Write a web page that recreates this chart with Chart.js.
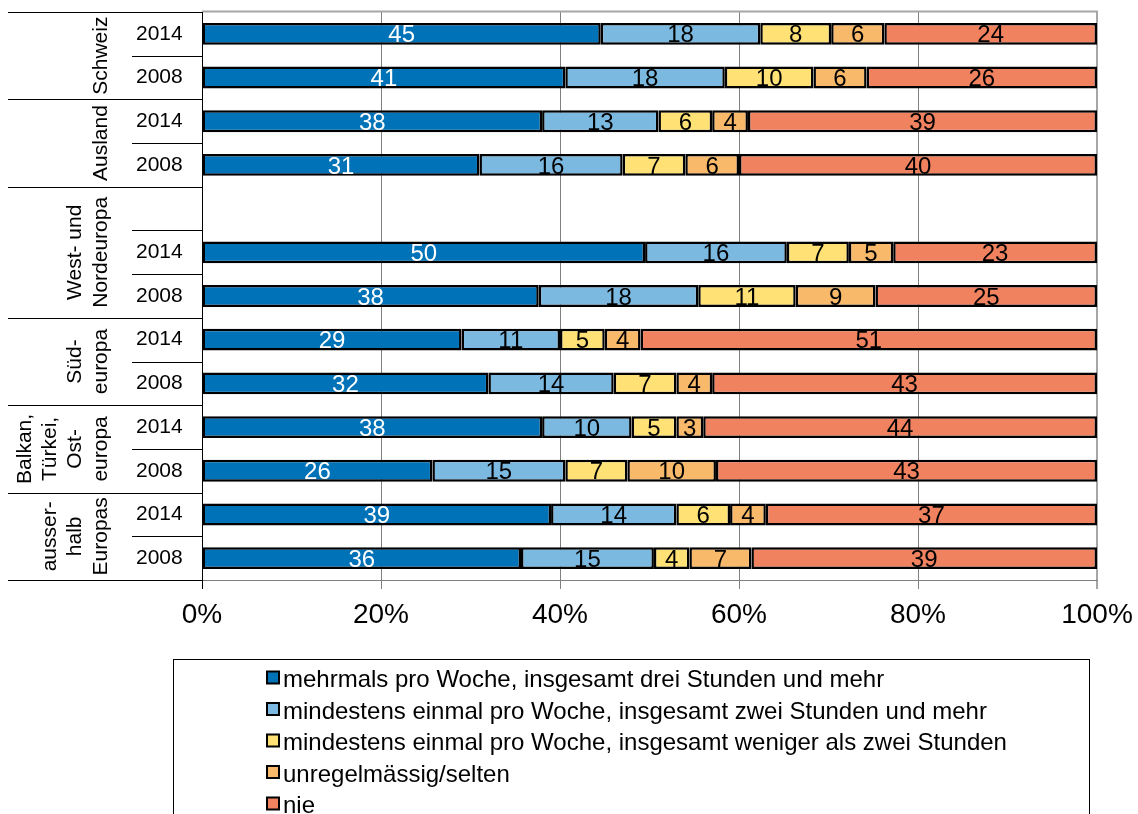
<!DOCTYPE html>
<html>
<head>
<meta charset="utf-8">
<script src="https://cdn.jsdelivr.net/npm/chart.js@4.4.1/dist/chart.umd.min.js"></script>
<style>
html,body{margin:0;padding:0;background:#fff;}
#wrap{width:1138px;height:814px;position:relative;}
</style>
</head>
<body>
<div id="wrap"><canvas id="c" width="1138" height="814"></canvas></div>
<script>
// ---- data ----
const rowLabels = ["2014","2008","2014","2008","","2014","2008","2014","2008","2014","2008","2014","2008"];
const groupLabels = [["Schweiz"],["Ausland"],["West- und","Nordeuropa"],["Süd-","europa"],["Balkan,","Türkei,","Ost-","europa"],["ausser-","halb","Europas"]];
const groupSizes = [2,2,3,2,2,2];
const seriesNames = [
  "mehrmals pro Woche, insgesamt drei Stunden und mehr",
  "mindestens einmal pro Woche, insgesamt zwei Stunden und mehr",
  "mindestens einmal pro Woche, insgesamt weniger als zwei Stunden",
  "unregelmässig/selten",
  "nie"
];
const mehrmals     = [45,41,38,31,null,50,38,29,32,38,26,39,36];
const mindZwei     = [18,18,13,16,null,16,18,11,14,10,15,14,15];
const mindWeniger  = [ 8,10, 6, 7,null, 7,11, 5, 7, 5, 7, 6, 4];
const unregelmaessig=[ 6, 6, 4, 6,null, 5, 9, 4, 4, 3,10, 4, 7];
const nie          = [24,26,39,40,null,23,25,51,43,44,43,37,39];
const xTicks = [0,20,40,60,80,100];

const seriesColors = ["#0072b7","#7bb9e1","#ffe176","#f9b96b","#f0825f"];
const labelColors = ["#ffffff","#000000","#000000","#000000","#000000"];
const rawSeries = [mehrmals,mindZwei,mindWeniger,unregelmaessig,nie];

// 100% stacked: share of each row total
const totals = rowLabels.map((_,i)=>rawSeries.reduce((s,a)=>s+(a[i]||0),0));
const datasets = rawSeries.map((arr,k)=>({
  label: seriesNames[k],
  data: arr.map((v,i)=> v==null ? null : v/totals[i]*100),
  raw: arr,
  backgroundColor: seriesColors[k],
  borderColor: "#000",
  borderWidth: 2.5,
  borderSkipped: false,
  barPercentage: 0.5,
  categoryPercentage: 1.0
}));

const FONT = "'Liberation Sans', Arial, sans-serif";

const valueLabels = {
  id:'valueLabels',
  afterDatasetsDraw(chart){
    const ctx = chart.ctx;
    ctx.save();
    ctx.font = "24px " + FONT;
    ctx.textAlign = "center";
    ctx.textBaseline = "middle";
    chart.data.datasets.forEach((ds,k)=>{
      const meta = chart.getDatasetMeta(k);
      meta.data.forEach((el,i)=>{
        const v = ds.raw[i];
        if (v==null) return;
        const p = el.getCenterPoint();
        ctx.fillStyle = labelColors[k];
        ctx.fillText(String(v), p.x, p.y + 2);
      });
    });
    ctx.restore();
  }
};

const frame = {
  id:'frame',
  afterDraw(chart){
    const ctx = chart.ctx, a = chart.chartArea, y = chart.scales.y;
    ctx.save();
    // top border of plot
    ctx.strokeStyle = "#a6a6a6"; ctx.lineWidth = 2;
    ctx.beginPath(); ctx.moveTo(a.left, a.top-0.5); ctx.lineTo(a.right+1, a.top-0.5); ctx.stroke();
    // left panel separators
    ctx.strokeStyle = "#000"; ctx.lineWidth = 1;
    const bound = i => i<=0 ? a.top : (i>=rowLabels.length ? a.bottom : (y.getPixelForValue(i-1)+y.getPixelForValue(i))/2);
    let start = 0;
    const hl = (x0, yy)=>{ ctx.beginPath(); ctx.moveTo(x0, Math.round(yy)+0.5); ctx.lineTo(a.left, Math.round(yy)+0.5); ctx.stroke(); };
    hl(8, a.top);
    ctx.font = "21px " + FONT;
    ctx.fillStyle = "#000";
    ctx.textAlign = "center";
    ctx.textBaseline = "middle";
    groupSizes.forEach((n,g)=>{
      for (let r=start+1; r<start+n; r++) hl(132, bound(r));
      hl(8, bound(start+n));
      const yc = (bound(start)+bound(start+n))/2;
      const lines = groupLabels[g];
      lines.forEach((t,j)=>{
        const x = 101 - (lines.length-1-j)*25.3;
        ctx.save();
        ctx.translate(x, yc);
        ctx.rotate(-Math.PI/2);
        ctx.fillText(t, 0, 0);
        ctx.restore();
      });
      start += n;
    });
    // black axis line at left
    ctx.beginPath(); ctx.moveTo(a.left+0.5, a.top); ctx.lineTo(a.left+0.5, a.bottom+9); ctx.stroke();

    // legend
    ctx.strokeStyle = "#000"; ctx.lineWidth = 1;
    ctx.strokeRect(173.5, 659.5, 916, 220);
    ctx.font = "24px " + FONT;
    ctx.textAlign = "left";
    ctx.textBaseline = "alphabetic";
    chart.data.datasets.forEach((ds,k)=>{
      const base = 687 + k*31.5;
      ctx.fillStyle = ds.backgroundColor;
      ctx.fillRect(267, base-15.5, 12, 12);
      ctx.lineWidth = 2; ctx.strokeStyle = "#000";
      ctx.strokeRect(267, base-15.5, 12, 12);
      ctx.fillStyle = "#000";
      ctx.fillText(ds.label, 283, base);
    });
    ctx.restore();
  }
};

new Chart(document.getElementById('c'), {
  type:'bar',
  data:{ labels: rowLabels, datasets },
  options:{
    indexAxis:'y',
    responsive:false,
    animation:false,
    events:[],
    layout:{ padding:{ left:136, right:41, top:12, bottom:178 } },
    plugins:{ legend:{display:false}, tooltip:{enabled:false} },
    scales:{
      x:{
        stacked:true, min:0, max:100,
        afterBuildTicks(s){ s.ticks = xTicks.map(v=>({value:v})); },
        afterFit(s){ s.height = 56; },
        ticks:{ callback:v=>v+"%", font:{family:FONT,size:28,lineHeight:1.86}, color:"#000", padding:0, maxRotation:0 },
        grid:{
          color:c=> c.tick && c.tick.value===0 ? "#000" : (c.tick && c.tick.value===100 ? "#a6a6a6" : "#808080"),
          lineWidth:c=> c.tick && c.tick.value===100 ? 2 : 1,
          tickLength:9, drawTicks:true
        },
        border:{ display:true, color:"#808080", width:1 }
      },
      y:{
        stacked:true,
        afterFit(s){ s.width = 66; },
        ticks:{ font:{family:FONT,size:21,lineHeight:1.0}, color:"#000", padding:0, crossAlign:'far', autoSkip:false },
        grid:{ display:false, drawTicks:false },
        border:{ display:false }
      }
    }
  },
  plugins:[valueLabels, frame]
});
</script>
</body>
</html>
